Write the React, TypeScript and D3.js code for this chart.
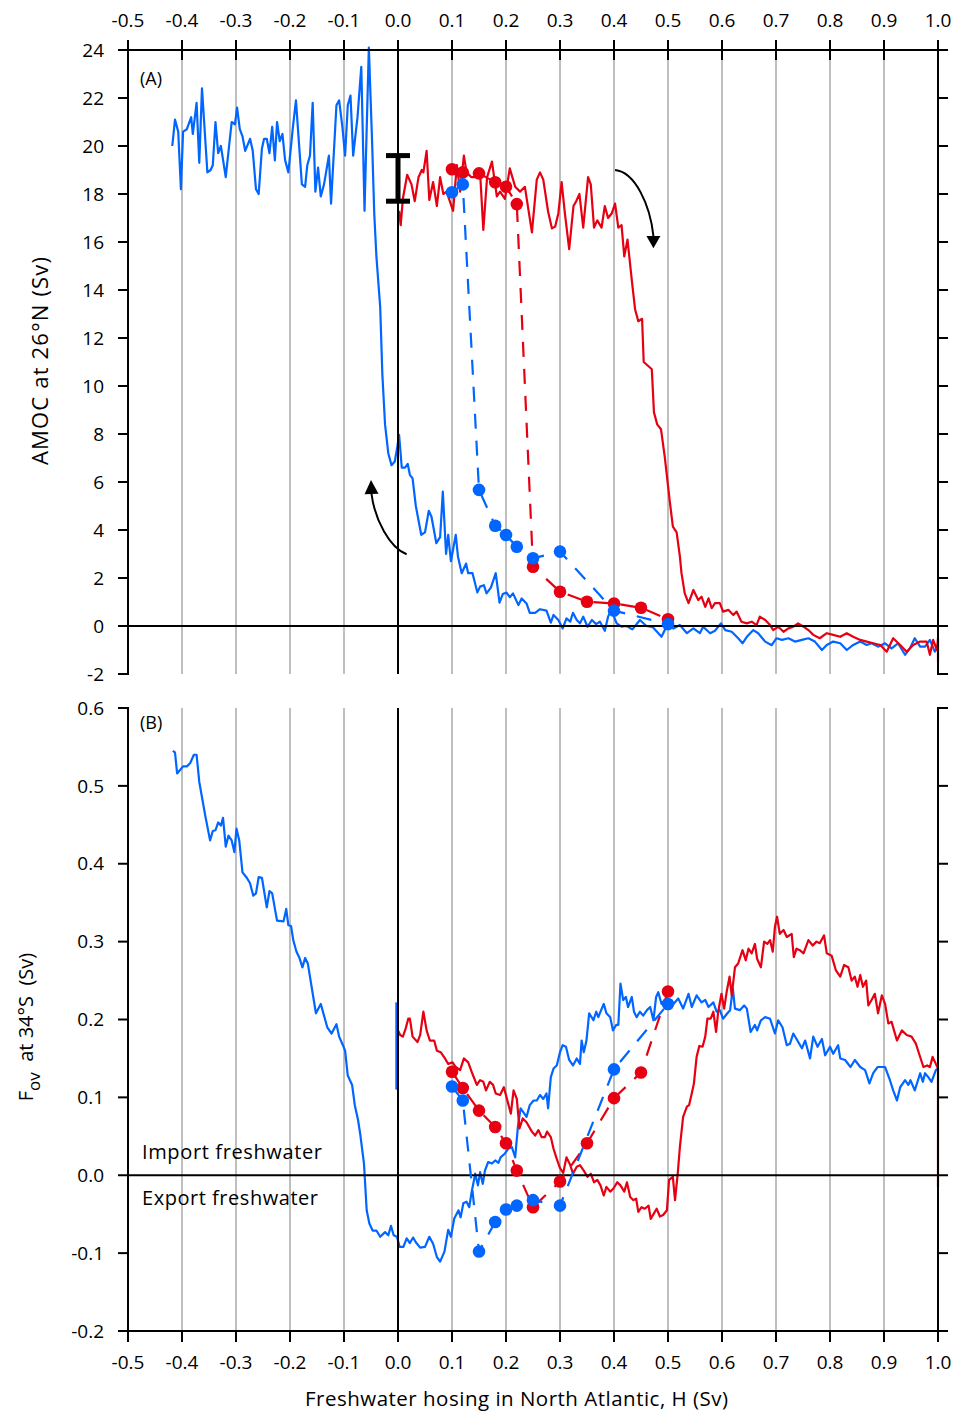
import { useEffect, useRef } from "react";
import * as d3 from "d3";

type Pt = [number, number];

// hosing axis (Sv)
const xTicks = [-0.5, -0.4, -0.3, -0.2, -0.1, 0.0, 0.1, 0.2, 0.3, 0.4, 0.5, 0.6, 0.7, 0.8, 0.9, 1.0];
const amocTicks = [-2, 0, 2, 4, 6, 8, 10, 12, 14, 16, 18, 20, 22, 24];
const fovTicks = [-0.2, -0.1, 0.0, 0.1, 0.2, 0.3, 0.4, 0.5, 0.6];

// (A) AMOC, backward (blue) hysteresis run
const amocBlue: Pt[] = [
  [-0.418, 20.0], [-0.413, 21.1], [-0.407, 20.6], [-0.402, 18.2], [-0.398, 20.6], [-0.391, 20.7], [-0.383, 21.2],
  [-0.38, 20.5], [-0.373, 21.8], [-0.368, 19.3], [-0.363, 22.4], [-0.353, 18.9], [-0.347, 19.0], [-0.343, 19.2],
  [-0.338, 21.0], [-0.333, 19.7], [-0.328, 20.0], [-0.319, 18.7], [-0.308, 21.0], [-0.302, 20.9], [-0.298, 21.6],
  [-0.293, 20.7], [-0.288, 20.4], [-0.283, 19.8], [-0.274, 20.3], [-0.269, 19.8], [-0.263, 18.2], [-0.258, 18.0],
  [-0.252, 19.9], [-0.248, 20.3], [-0.243, 20.3], [-0.238, 19.7], [-0.233, 20.8], [-0.228, 19.4], [-0.224, 21.0],
  [-0.219, 20.2], [-0.214, 20.5], [-0.209, 19.4], [-0.203, 18.9], [-0.195, 20.7], [-0.189, 21.9], [-0.178, 18.4],
  [-0.172, 18.3], [-0.168, 19.2], [-0.163, 19.6], [-0.158, 21.8], [-0.153, 18.1], [-0.148, 19.1], [-0.143, 17.9],
  [-0.137, 18.4], [-0.128, 19.6], [-0.124, 17.6], [-0.114, 21.7], [-0.109, 21.9], [-0.103, 20.8], [-0.098, 19.6],
  [-0.093, 21.7], [-0.088, 22.1], [-0.083, 19.6], [-0.075, 21.2], [-0.068, 23.3], [-0.062, 17.3], [-0.054, 24.1],
  [-0.048, 20.2], [-0.044, 17.2], [-0.04, 15.4], [-0.033, 13.3], [-0.029, 10.5], [-0.024, 8.4], [-0.018, 7.2],
  [-0.012, 6.7], [-0.006, 6.85], [-0.001, 7.5], [0.002, 7.96], [0.007, 6.6], [0.013, 6.6], [0.018, 6.75],
  [0.022, 6.3], [0.027, 6.15], [0.033, 5.0], [0.043, 3.8], [0.05, 3.9], [0.057, 4.8], [0.062, 4.55], [0.071, 3.45],
  [0.078, 3.7], [0.083, 5.6], [0.089, 3.0], [0.093, 3.8], [0.098, 2.7], [0.107, 3.8], [0.111, 2.9], [0.118, 2.2],
  [0.126, 2.6], [0.13, 2.2], [0.138, 2.2], [0.147, 1.4], [0.152, 1.64], [0.159, 1.7], [0.164, 1.36], [0.172, 1.6],
  [0.181, 2.2], [0.188, 0.97], [0.194, 1.33], [0.201, 1.39], [0.207, 1.2], [0.213, 1.36], [0.223, 0.87],
  [0.229, 1.15], [0.238, 0.94], [0.244, 0.55], [0.254, 0.55], [0.263, 0.7], [0.275, 0.64], [0.283, 0.14],
  [0.288, 0.46], [0.297, 0.25], [0.305, -0.1], [0.312, 0.32], [0.319, 0.18], [0.324, 0.55], [0.331, 0.25],
  [0.337, 0.11], [0.343, 0.39], [0.351, -0.03], [0.359, 0.25], [0.367, 0.08], [0.374, 0.18], [0.383, -0.2],
  [0.389, 0.39], [0.395, 0.67], [0.405, 0.11], [0.414, -0.03], [0.423, 0.0], [0.434, -0.14], [0.448, 0.25],
  [0.46, 0.0], [0.472, -0.05], [0.488, -0.45], [0.497, -0.03], [0.51, -0.1], [0.522, 0.04], [0.535, -0.3],
  [0.547, -0.1], [0.559, -0.3], [0.565, -0.03], [0.578, -0.3], [0.587, -0.2], [0.598, 0.11], [0.606, -0.17],
  [0.618, -0.24], [0.63, -0.51], [0.638, -0.72], [0.646, -0.45], [0.658, -0.17], [0.667, -0.3], [0.68, -0.65],
  [0.692, -0.8], [0.701, -0.51], [0.711, -0.58], [0.723, -0.51], [0.735, -0.65], [0.748, -0.58], [0.76, -0.51],
  [0.772, -0.65], [0.785, -1.0], [0.794, -0.79], [0.806, -0.65], [0.819, -0.72], [0.831, -1.0], [0.843, -0.79],
  [0.856, -0.65], [0.868, -0.79], [0.877, -0.72], [0.889, -0.86], [0.902, -0.72], [0.914, -0.93], [0.926, -0.72],
  [0.939, -1.2], [0.948, -0.93], [0.957, -0.51], [0.967, -0.86], [0.976, -0.86], [0.985, -0.58], [0.994, -1.07],
  [1.0, -0.86],
];

// (A) AMOC, forward (red) run
const amocRed: Pt[] = [
  [0.002, 17.3], [0.005, 16.7], [0.009, 17.8], [0.017, 18.8], [0.025, 18.4], [0.031, 17.7], [0.038, 18.7],
  [0.044, 19.0], [0.047, 18.9], [0.053, 19.8], [0.058, 17.75], [0.065, 18.5], [0.072, 17.5], [0.078, 18.7],
  [0.084, 18.0], [0.09, 18.1], [0.102, 17.3], [0.109, 19.2], [0.115, 18.1], [0.122, 19.6], [0.127, 18.9],
  [0.136, 18.7], [0.144, 18.7], [0.152, 18.9], [0.158, 16.5], [0.165, 18.7], [0.174, 19.35], [0.183, 17.9],
  [0.189, 18.1], [0.198, 17.8], [0.207, 19.07], [0.217, 18.3], [0.226, 18.1], [0.235, 18.3], [0.248, 16.4],
  [0.257, 18.6], [0.263, 18.9], [0.269, 18.6], [0.278, 17.26], [0.285, 16.57], [0.291, 16.64], [0.297, 17.2],
  [0.303, 18.5], [0.309, 17.2], [0.317, 15.7], [0.325, 17.5], [0.33, 17.7], [0.336, 18.0], [0.343, 16.6],
  [0.352, 18.7], [0.357, 18.4], [0.363, 16.6], [0.369, 16.9], [0.377, 16.6], [0.383, 17.5], [0.389, 17.0],
  [0.396, 17.2], [0.402, 17.6], [0.408, 16.6], [0.414, 16.7], [0.419, 15.4], [0.425, 16.1], [0.433, 14.4],
  [0.439, 13.2], [0.445, 12.7], [0.452, 12.8], [0.455, 11.0], [0.465, 10.8], [0.47, 10.7], [0.474, 8.9],
  [0.48, 8.4], [0.487, 8.2], [0.494, 7.05], [0.503, 5.25], [0.509, 4.14], [0.516, 3.9], [0.522, 2.9],
  [0.525, 2.2], [0.531, 1.36], [0.538, 0.95], [0.547, 1.5], [0.556, 1.08], [0.562, 1.22], [0.569, 0.8],
  [0.575, 1.15], [0.581, 0.74], [0.587, 0.95], [0.596, 0.95], [0.602, 0.6], [0.612, 0.67], [0.621, 0.46],
  [0.627, 0.6], [0.636, 0.18], [0.646, 0.11], [0.655, 0.18], [0.664, 0.04], [0.67, 0.39], [0.68, 0.25],
  [0.689, 0.04], [0.695, -0.17], [0.704, -0.03], [0.714, -0.24], [0.723, -0.1], [0.732, -0.03], [0.741, 0.11],
  [0.751, -0.03], [0.76, -0.17], [0.769, -0.37], [0.781, -0.51], [0.794, -0.3], [0.806, -0.37], [0.819, -0.45],
  [0.831, -0.3], [0.843, -0.45], [0.856, -0.58], [0.868, -0.65], [0.88, -0.72], [0.893, -0.79], [0.905, -1.07],
  [0.917, -0.51], [0.93, -0.79], [0.942, -1.07], [0.954, -0.79], [0.967, -0.65], [0.979, -0.65], [0.985, -1.2],
  [0.991, -0.58], [0.998, -1.0], [1.0, -0.51], [1.0, -1.49],
];

// equilibrium runs (dots), red and blue branches
const redStepH = [0.1, 0.12, 0.15, 0.18, 0.2, 0.22, 0.25, 0.3, 0.35, 0.4, 0.45, 0.5];
const amocRedDots = [19.03, 18.9, 18.86, 18.49, 18.3, 17.58, 2.47, 1.43, 1.01, 0.94, 0.76, 0.28];
const blueStepH = [0.1, 0.12, 0.15, 0.18, 0.2, 0.22, 0.25, 0.3, 0.4, 0.5];
const amocBlueDots = [18.07, 18.4, 5.67, 4.18, 3.79, 3.3, 2.82, 3.1, 0.64, 0.08];

// (B) Fov at 34S
const fovBlue: Pt[] = [
  [-0.417, 0.545], [-0.413, 0.543], [-0.409, 0.516], [-0.404, 0.52], [-0.398, 0.525], [-0.391, 0.525],
  [-0.385, 0.529], [-0.378, 0.54], [-0.373, 0.54], [-0.368, 0.505], [-0.357, 0.462], [-0.348, 0.43],
  [-0.343, 0.442], [-0.338, 0.443], [-0.333, 0.453], [-0.328, 0.449], [-0.324, 0.459], [-0.319, 0.422],
  [-0.314, 0.436], [-0.308, 0.43], [-0.303, 0.415], [-0.299, 0.445], [-0.294, 0.43], [-0.288, 0.389],
  [-0.28, 0.382], [-0.274, 0.375], [-0.268, 0.359], [-0.263, 0.362], [-0.258, 0.383], [-0.252, 0.382],
  [-0.243, 0.344], [-0.238, 0.365], [-0.233, 0.362], [-0.224, 0.327], [-0.212, 0.326], [-0.207, 0.342],
  [-0.203, 0.321], [-0.198, 0.32], [-0.194, 0.302], [-0.188, 0.287], [-0.183, 0.28], [-0.177, 0.267],
  [-0.172, 0.279], [-0.167, 0.272], [-0.16, 0.242], [-0.152, 0.208], [-0.143, 0.22], [-0.137, 0.205],
  [-0.131, 0.19], [-0.123, 0.182], [-0.114, 0.194], [-0.109, 0.178], [-0.102, 0.167], [-0.098, 0.16],
  [-0.093, 0.128], [-0.085, 0.116], [-0.08, 0.09], [-0.074, 0.071], [-0.07, 0.053], [-0.063, 0.015],
  [-0.058, -0.045], [-0.053, -0.062], [-0.047, -0.071], [-0.04, -0.071], [-0.033, -0.079], [-0.024, -0.073],
  [-0.018, -0.077], [-0.013, -0.065], [-0.008, -0.077], [-0.002, -0.079], [0.003, -0.092], [0.01, -0.092],
  [0.016, -0.081], [0.022, -0.087], [0.028, -0.08], [0.033, -0.086], [0.041, -0.093], [0.05, -0.092],
  [0.058, -0.079], [0.065, -0.088], [0.072, -0.105], [0.078, -0.111], [0.086, -0.098], [0.093, -0.07],
  [0.098, -0.079], [0.104, -0.056], [0.112, -0.045], [0.116, -0.054], [0.121, -0.036], [0.127, -0.034],
  [0.132, -0.041], [0.136, -0.023], [0.143, 0.002], [0.148, -0.013], [0.152, 0.004], [0.157, -0.011],
  [0.161, 0.006], [0.167, 0.017], [0.174, 0.015], [0.18, 0.019], [0.186, 0.016], [0.19, 0.023], [0.198, 0.028],
  [0.204, 0.034], [0.211, 0.036], [0.217, 0.023], [0.222, 0.062], [0.227, 0.086], [0.232, 0.081],
  [0.238, 0.075], [0.244, 0.09], [0.251, 0.096], [0.257, 0.096], [0.263, 0.103], [0.269, 0.098],
  [0.275, 0.105], [0.278, 0.086], [0.283, 0.126], [0.288, 0.137], [0.294, 0.141], [0.3, 0.158], [0.305, 0.167],
  [0.311, 0.165], [0.317, 0.148], [0.324, 0.141], [0.331, 0.15], [0.337, 0.143], [0.34, 0.173], [0.344, 0.158],
  [0.349, 0.173], [0.354, 0.208], [0.362, 0.199], [0.367, 0.21], [0.371, 0.203], [0.375, 0.21], [0.381, 0.22],
  [0.386, 0.208], [0.393, 0.203], [0.398, 0.186], [0.404, 0.193], [0.408, 0.193], [0.412, 0.246],
  [0.417, 0.225], [0.422, 0.229], [0.426, 0.216], [0.433, 0.229], [0.437, 0.21], [0.442, 0.203], [0.448, 0.21],
  [0.454, 0.205], [0.461, 0.212], [0.467, 0.216], [0.473, 0.199], [0.478, 0.229], [0.482, 0.235], [0.488, 0.22],
  [0.494, 0.225], [0.501, 0.225], [0.51, 0.22], [0.519, 0.227], [0.528, 0.214], [0.538, 0.233], [0.544, 0.216],
  [0.553, 0.231], [0.562, 0.222], [0.569, 0.225], [0.575, 0.216], [0.584, 0.222], [0.59, 0.21], [0.596, 0.212],
  [0.602, 0.201], [0.61, 0.208], [0.615, 0.212], [0.62, 0.24], [0.624, 0.214], [0.633, 0.212], [0.641, 0.218],
  [0.646, 0.214], [0.653, 0.184], [0.661, 0.193], [0.665, 0.186], [0.672, 0.199], [0.68, 0.203], [0.689, 0.201],
  [0.698, 0.182], [0.704, 0.199], [0.712, 0.19], [0.72, 0.167], [0.726, 0.169], [0.732, 0.182], [0.738, 0.175],
  [0.748, 0.163], [0.754, 0.173], [0.763, 0.15], [0.769, 0.178], [0.777, 0.165], [0.785, 0.175], [0.791, 0.154],
  [0.8, 0.165], [0.806, 0.156], [0.815, 0.167], [0.819, 0.15], [0.828, 0.148], [0.838, 0.139], [0.846, 0.148],
  [0.856, 0.139], [0.865, 0.135], [0.873, 0.118], [0.88, 0.131], [0.888, 0.139], [0.896, 0.139], [0.902, 0.139],
  [0.911, 0.122], [0.917, 0.109], [0.924, 0.096], [0.93, 0.113], [0.939, 0.122], [0.945, 0.116], [0.949, 0.122],
  [0.957, 0.109], [0.967, 0.131], [0.972, 0.12], [0.976, 0.131], [0.982, 0.126], [0.988, 0.12], [0.996, 0.135],
  [1.0, 0.137],
];
const fovBlueStart: Pt[] = [[-0.003, 0.222], [-0.003, 0.11]];

const fovRed: Pt[] = [
  [0.0, 0.186], [0.004, 0.18], [0.009, 0.178], [0.014, 0.188], [0.019, 0.201], [0.022, 0.201], [0.027, 0.178],
  [0.036, 0.171], [0.041, 0.18], [0.047, 0.21], [0.053, 0.186], [0.059, 0.173], [0.067, 0.173], [0.072, 0.16],
  [0.079, 0.158], [0.087, 0.15], [0.093, 0.143], [0.101, 0.145], [0.107, 0.139], [0.115, 0.135], [0.122, 0.15],
  [0.13, 0.145], [0.138, 0.13], [0.146, 0.116], [0.152, 0.122], [0.158, 0.12], [0.163, 0.109], [0.17, 0.12],
  [0.176, 0.116], [0.181, 0.105], [0.189, 0.103], [0.196, 0.113], [0.201, 0.1], [0.209, 0.079], [0.214, 0.109],
  [0.22, 0.098], [0.225, 0.06], [0.231, 0.073], [0.238, 0.068], [0.248, 0.056], [0.254, 0.051], [0.26, 0.058],
  [0.266, 0.049], [0.272, 0.049], [0.276, 0.056], [0.283, 0.049], [0.288, 0.034], [0.294, 0.021], [0.3, 0.009],
  [0.306, 0.003], [0.312, 0.023], [0.319, 0.013], [0.324, 0.002], [0.331, 0.011], [0.337, 0.013], [0.344, 0.006],
  [0.351, -0.002], [0.357, 0.002], [0.363, -0.009], [0.369, -0.006], [0.375, -0.013], [0.381, -0.026],
  [0.386, -0.015], [0.393, -0.021], [0.399, -0.017], [0.406, -0.009], [0.412, -0.013], [0.419, -0.021],
  [0.424, -0.009], [0.43, -0.028], [0.436, -0.032], [0.441, -0.03], [0.445, -0.047], [0.451, -0.041],
  [0.457, -0.043], [0.464, -0.039], [0.468, -0.056], [0.474, -0.049], [0.479, -0.043], [0.485, -0.053],
  [0.491, -0.051], [0.498, -0.045], [0.502, -0.006], [0.509, -0.002], [0.513, -0.032], [0.518, 0.002],
  [0.522, 0.036], [0.528, 0.075], [0.535, 0.088], [0.539, 0.09], [0.544, 0.105], [0.548, 0.118], [0.553, 0.152],
  [0.558, 0.166], [0.564, 0.165], [0.569, 0.178], [0.573, 0.201], [0.579, 0.201], [0.584, 0.21], [0.589, 0.184],
  [0.593, 0.21], [0.599, 0.233], [0.604, 0.214], [0.609, 0.237], [0.614, 0.255], [0.618, 0.231], [0.624, 0.267],
  [0.63, 0.272], [0.638, 0.289], [0.644, 0.276], [0.649, 0.291], [0.655, 0.285], [0.661, 0.297], [0.665, 0.278],
  [0.672, 0.267], [0.678, 0.3], [0.684, 0.297], [0.689, 0.302], [0.694, 0.287], [0.698, 0.319], [0.702, 0.332],
  [0.707, 0.31], [0.714, 0.315], [0.72, 0.306], [0.729, 0.31], [0.733, 0.28], [0.738, 0.291], [0.744, 0.289],
  [0.751, 0.285], [0.76, 0.302], [0.768, 0.295], [0.775, 0.3], [0.781, 0.298], [0.789, 0.308], [0.794, 0.285],
  [0.803, 0.282], [0.811, 0.263], [0.819, 0.255], [0.826, 0.27], [0.834, 0.267], [0.84, 0.25], [0.846, 0.255],
  [0.851, 0.242], [0.856, 0.257], [0.861, 0.242], [0.867, 0.25], [0.871, 0.218], [0.877, 0.225], [0.883, 0.233],
  [0.889, 0.208], [0.896, 0.231], [0.902, 0.22], [0.908, 0.195], [0.914, 0.197], [0.924, 0.173], [0.933, 0.186],
  [0.942, 0.18], [0.951, 0.178], [0.959, 0.169], [0.965, 0.156], [0.973, 0.139], [0.98, 0.141], [0.985, 0.139],
  [0.99, 0.152], [0.996, 0.143], [1.0, 0.137], [1.0, -0.015],
];

const fovRedDots = [0.133, 0.112, 0.083, 0.062, 0.041, 0.006, -0.041, -0.008, 0.041, 0.099, 0.132, 0.236];
const fovBlueDots = [0.114, 0.096, -0.098, -0.06, -0.044, -0.039, -0.032, -0.039, 0.136, 0.22];

const BLUE = "#0066ff";
const RED = "#e60012";
const FONT = "'Open Sans', 'DejaVu Sans', sans-serif";

// plain hyphen for negatives, like the original figure
const fmt1 = (d: number) => d3.format(".1f")(d).replace("\u2212", "-");
const fmt0 = (d: number) => d3.format("d")(d).replace("\u2212", "-");

export default function App() {
  const ref = useRef<SVGSVGElement>(null);

  useEffect(() => {
    const svg = d3.select(ref.current);
    svg.selectAll("*").remove();

    const left = 128, right = 938;
    const x = d3.scaleLinear().domain([-0.5, 1.0]).range([left, right]);
    const yA = d3.scaleLinear().domain([-2, 24]).range([674, 50]);
    const yB = d3.scaleLinear().domain([-0.2, 0.6]).range([1331, 708]);

    const panels = [
      { y: yA, ticks: amocTicks, fmt: fmt0, blue: [amocBlue], red: amocRed,
        redDots: amocRedDots, blueDots: amocBlueDots },
      { y: yB, ticks: fovTicks, fmt: fmt1, blue: [fovBlue, fovBlueStart], red: fovRed,
        redDots: fovRedDots, blueDots: fovBlueDots },
    ];

    panels.forEach((p) => {
      const [bot, top] = p.y.range();
      const g = svg.append("g");

      // vertical grid
      g.selectAll(".grid")
        .data(xTicks.filter((t) => Math.abs(t) > 1e-9 && t > -0.45 && t < 0.95))
        .join("line")
        .attr("x1", (d) => x(d)).attr("x2", (d) => x(d))
        .attr("y1", top).attr("y2", bot)
        .attr("stroke", "#aaaaaa").attr("stroke-width", 1.5);

      const line = d3.line<Pt>().x((d) => x(d[0])).y((d) => p.y(d[1]));

      p.blue.forEach((s) => {
        g.append("path").attr("d", line(s)).attr("fill", "none")
          .attr("stroke", BLUE).attr("stroke-width", 2.2).attr("stroke-linejoin", "round");
      });
      g.append("path").attr("d", line(p.red)).attr("fill", "none")
        .attr("stroke", RED).attr("stroke-width", 2.2).attr("stroke-linejoin", "round");

      // zero lines
      g.append("line").attr("x1", left).attr("x2", right).attr("y1", p.y(0)).attr("y2", p.y(0))
        .attr("stroke", "#000").attr("stroke-width", 2);
      g.append("line").attr("x1", x(0)).attr("x2", x(0)).attr("y1", top).attr("y2", bot)
        .attr("stroke", "#000").attr("stroke-width", 2);

      // side axes
      [left, right].forEach((ax) => {
        g.append("line").attr("x1", ax).attr("x2", ax).attr("y1", top - 1).attr("y2", bot + 1)
          .attr("stroke", "#000").attr("stroke-width", 2);
        g.selectAll(null).data(p.ticks).join("line")
          .attr("x1", ax).attr("x2", ax === left ? ax - 10 : ax + 10)
          .attr("y1", (d) => p.y(d)).attr("y2", (d) => p.y(d))
          .attr("stroke", "#000").attr("stroke-width", 2);
      });
      g.selectAll(null).data(p.ticks).join("text")
        .attr("x", 104).attr("y", (d) => p.y(d)).attr("dy", "0.35em")
        .attr("text-anchor", "end").attr("font-family", FONT).attr("font-size", 19)
        .text((d) => p.fmt(d));

      // dashed equilibrium branches, red first then blue
      const series = [
        { h: redStepH, v: p.redDots, c: RED },
        { h: blueStepH, v: p.blueDots, c: BLUE },
      ];
      series.forEach((s) => {
        const pts: Pt[] = s.h.map((h, i) => [h, s.v[i]]);
        g.append("path").attr("d", line(pts)).attr("fill", "none")
          .attr("stroke", s.c).attr("stroke-width", 2.2).attr("stroke-dasharray", "15,12");
        g.selectAll(null).data(pts).join("circle")
          .attr("cx", (d) => x(d[0])).attr("cy", (d) => p.y(d[1])).attr("r", 6.3)
          .attr("fill", s.c);
      });
    });

    // top and bottom hosing axes
    const axes = [
      { y: 50, t1: 40, t2: 60, ly: 20 },
      { y: 1331, t1: 1331, t2: 1342, ly: 1362 },
    ];
    axes.forEach((a) => {
      svg.append("line").attr("x1", left - 1).attr("x2", right + 1).attr("y1", a.y).attr("y2", a.y)
        .attr("stroke", "#000").attr("stroke-width", 2);
      svg.selectAll(null).data(xTicks).join("line")
        .attr("x1", (d) => x(d)).attr("x2", (d) => x(d)).attr("y1", a.t1).attr("y2", a.t2)
        .attr("stroke", "#000").attr("stroke-width", 2);
      svg.selectAll(null).data(xTicks).join("text")
        .attr("x", (d) => x(d)).attr("y", a.ly).attr("dy", "0.35em")
        .attr("text-anchor", "middle").attr("font-family", FONT).attr("font-size", 19)
        .text((d) => fmt1(d));
    });

    // error bar at H = 0
    const eb = svg.append("g").attr("stroke", "#000").attr("stroke-width", 5);
    eb.append("line").attr("x1", x(0)).attr("x2", x(0)).attr("y1", yA(19.6)).attr("y2", yA(17.7));
    [19.6, 17.7].forEach((v) => {
      eb.append("line").attr("x1", x(0) - 12).attr("x2", x(0) + 12).attr("y1", yA(v)).attr("y2", yA(v));
    });

    // curved arrows
    const arrows = [
      { from: [0.402, 19.0], c1: [0.439, 18.92], c2: [0.467, 17.54], to: [0.473, 16.25], tip: [0.473, 15.74] },
      { from: [0.016, 2.99], c1: [-0.015, 3.25], c2: [-0.043, 4.42], to: [-0.049, 5.5], tip: [-0.05, 6.08] },
    ];
    arrows.forEach((a) => {
      const pth = d3.path();
      pth.moveTo(x(a.from[0]), yA(a.from[1]));
      pth.bezierCurveTo(x(a.c1[0]), yA(a.c1[1]), x(a.c2[0]), yA(a.c2[1]), x(a.to[0]), yA(a.to[1]));
      svg.append("path").attr("d", pth.toString()).attr("fill", "none")
        .attr("stroke", "#000").attr("stroke-width", 2);
      const bx = x(a.to[0]), by = yA(a.to[1]);
      const tx = x(a.tip[0]), ty = yA(a.tip[1]);
      const dx = tx - bx, dy = ty - by;
      const len = Math.hypot(dx, dy);
      const nx = -dy / len * 7, ny = dx / len * 7;
      svg.append("path")
        .attr("d", `M${tx},${ty}L${bx + nx},${by + ny}L${bx - nx},${by - ny}Z`)
        .attr("fill", "#000");
    });

    // labels
    const txt = (s: string, tx: number, ty: number, size: number, len?: number) => {
      const t = svg.append("text").attr("x", tx).attr("y", ty).attr("font-family", FONT)
        .attr("font-size", size).text(s);
      if (len) t.attr("textLength", len).attr("lengthAdjust", "spacing");
      return t;
    };
    txt("(A)", 140, 85, 18);
    txt("(B)", 140, 729, 18);
    txt("Import freshwater", 142, 1159, 20, 180);
    txt("Export freshwater", 142, 1205, 20, 176);

    svg.append("text").attr("x", 305).attr("y", 1406)
      .attr("font-family", FONT).attr("font-size", 20.5)
      .attr("textLength", 423).attr("lengthAdjust", "spacing")
      .text("Freshwater hosing in North Atlantic, H (Sv)");

    svg.append("text").attr("transform", "translate(48,465) rotate(-90)")
      .attr("font-family", FONT).attr("font-size", 22)
      .attr("textLength", 208).attr("lengthAdjust", "spacing")
      .text("AMOC at 26°N (Sv)");

    const fl = svg.append("text").attr("transform", "translate(33,1027) rotate(-90)")
      .attr("text-anchor", "middle").attr("font-family", FONT).attr("font-size", 20);
    fl.append("tspan").text("F");
    fl.append("tspan").attr("dy", 7).attr("font-size", 17).text("ov");
    fl.append("tspan").attr("dy", -7).text("\u00a0\u00a0at 34°S\u00a0\u00a0(Sv)");
  }, []);

  return (
    <div style={{ position: "absolute", left: 0, top: 0 }}>
      <svg ref={ref} width={955} height={1414} style={{ display: "block", background: "#fff" }} />
    </div>
  );
}
